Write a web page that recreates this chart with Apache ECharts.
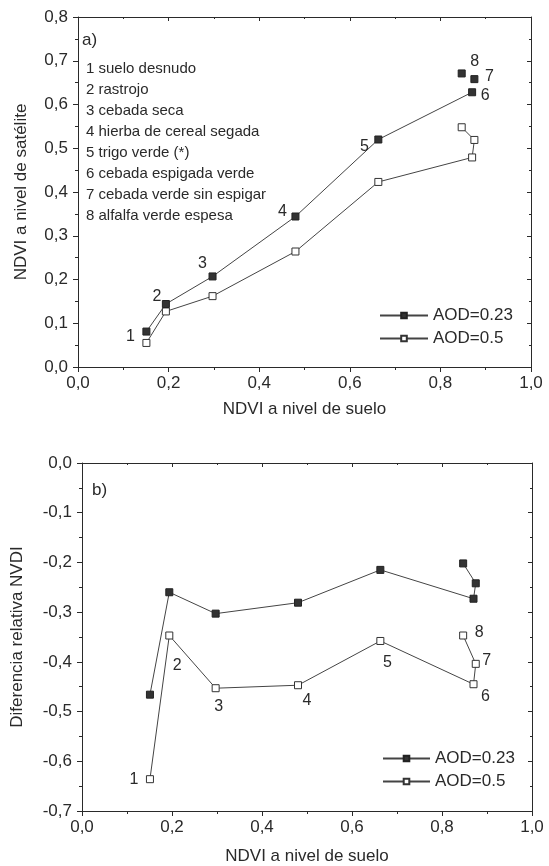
<!DOCTYPE html>
<html>
<head>
<meta charset="utf-8">
<script src="https://cdn.jsdelivr.net/npm/echarts@6/dist/echarts.min.js"></script>
<style>
html,body{margin:0;padding:0;background:#fff;}
#c{width:549px;height:866px;}
</style>
</head>
<body>
<div id="c"></div>
<script>
// ---- data ----
const ground   = [0.151, 0.194, 0.297, 0.480, 0.663, 0.870, 0.875, 0.847];
const satA023  = [0.081, 0.144, 0.207, 0.344, 0.520, 0.628, 0.658, 0.671];
const satA05   = [0.055, 0.127, 0.162, 0.264, 0.423, 0.479, 0.519, 0.548];
const difA023  = [-0.466, -0.260, -0.303, -0.281, -0.215, -0.273, -0.242, -0.202];
const difA05   = [-0.636, -0.347, -0.453, -0.447, -0.358, -0.445, -0.404, -0.347];
const pointNums = ['1','2','3','4','5','6','7','8'];
const coverList = ['1 suelo desnudo','2 rastrojo','3 cebada seca','4 hierba de cereal segada',
  '5 trigo verde (*)','6 cebada espigada verde','7 cebada verde sin espigar','8 alfalfa verde espesa'];
const seriesNames = ['AOD=0.23','AOD=0.5'];
const xName = 'NDVI a nivel de suelo';
const yNameTop = 'NDVI a nivel de satélite';
const yNameBot = 'Diferencia relativa NVDI';
// top AOD=0.23: points after which the line is broken
const topBreakBefore = [6, 7];

// ---- style (label offsets in px) ----
const topLabelOffsets = [[-16,5],[-9,-7],[-10,-13],[-13,-5],[-14,7],[13,3],[15,-3],[13,-12]];
const botLabelOffsets = [[-16,0],[8,30],[3,18],[9,15],[7,22],[12,12],[11,-3],[16,-3]];
const FONT = "'Liberation Sans', Arial, sans-serif";
const INK = '#2a2a2a';

function fmt(v){ return (Math.round(v*10)/10).toFixed(1).replace('.', ','); }

function pts(xs, ys, offsets, breaks){
  const out = [];
  xs.forEach((x,i)=>{
    if (breaks && breaks.indexOf(i) >= 0) out.push({value:[x,'-']});
    const item = {value:[x, ys[i]]};
    if (offsets) item.label = {show:true, formatter: pointNums[i], position:'inside', offset: offsets[i]};
    out.push(item);
  });
  return out;
}

function baseX(grid, name, gap){
  return {
    gridIndex: grid, type:'value', min:0, max:1, interval:0.2,
    name: name, nameLocation:'middle', nameGap: gap,
    nameTextStyle:{fontSize:17, color:INK, fontFamily:FONT},
    axisLine:{onZero:false, lineStyle:{color:INK, width:1}},
    axisTick:{length:5, lineStyle:{color:INK}},
    minorTick:{show:true, splitNumber:2, length:3, lineStyle:{color:INK}},
    axisLabel:{formatter:fmt, fontSize:17, color:INK, fontFamily:FONT, margin:8},
    splitLine:{show:false}
  };
}
function mirrorX(grid){
  return {gridIndex:grid, type:'value', min:0, max:1, interval:0.2, position:'top',
    axisLine:{onZero:false, lineStyle:{color:INK}}, axisTick:{inside:true, length:4, lineStyle:{color:INK}},
    minorTick:{show:true, splitNumber:2, length:2, lineStyle:{color:INK}},
    axisLabel:{show:false}, splitLine:{show:false}};
}
function baseY(grid, min, max, name, gap){
  return {
    gridIndex: grid, type:'value', min:min, max:max, interval:0.1,
    name:name, nameLocation:'middle', nameGap:gap,
    nameTextStyle:{fontSize:17, color:INK, fontFamily:FONT},
    axisLine:{onZero:false, lineStyle:{color:INK, width:1}},
    axisTick:{length:5, lineStyle:{color:INK}},
    minorTick:{show:true, splitNumber:2, length:3, lineStyle:{color:INK}},
    axisLabel:{formatter:fmt, fontSize:17, color:INK, fontFamily:FONT, margin:10},
    splitLine:{show:false}
  };
}
function mirrorY(grid, min, max){
  return {gridIndex:grid, type:'value', min:min, max:max, interval:0.1, position:'right',
    axisLine:{onZero:false, lineStyle:{color:INK}}, axisTick:{inside:true, length:4, lineStyle:{color:INK}},
    minorTick:{show:true, splitNumber:2, length:2, lineStyle:{color:INK}},
    axisLabel:{show:false}, splitLine:{show:false}};
}

const filledStyle = {color:'#333', borderColor:'#222', borderWidth:1};
const openStyle = {color:'#fff', borderColor:'#333', borderWidth:1};
const lineStyle = {color:'#444', width:1};
const labelStyle = {fontSize:16, color:INK, fontFamily:FONT};

function series(name, xi, yi, data, filled){
  return {
    name:name, type:'line', xAxisIndex:xi, yAxisIndex:yi, data:data,
    symbol:'rect', symbolSize:7, showSymbol:true, showAllSymbol:true,
    connectNulls:false, lineStyle:lineStyle,
    itemStyle: filled ? filledStyle : openStyle,
    label: Object.assign({show:false}, labelStyle),
    emphasis:{disabled:true}, animation:false, z: filled ? 3 : 2
  };
}

const graphics = [
  {type:'text', left:82, top:32, style:{text:'a)', fontSize:17, fill:INK, fontFamily:FONT}},
  {type:'text', left:92, top:482, style:{text:'b)', fontSize:17, fill:INK, fontFamily:FONT}}
];
coverList.forEach((t,i)=>{
  graphics.push({type:'text', left:86, top:61 + i*21, style:{text:t, fontSize:15, fill:INK, fontFamily:FONT}});
});

function legend(left, top, width){
  return {data:seriesNames, orient:'vertical', left:left, top:top, itemWidth:width, itemHeight:7, itemGap:6,
    textStyle:{fontSize:17, color:INK, fontFamily:FONT}, selectedMode:false};
}

const option = {
  animation:false,
  textStyle:{fontFamily:FONT},
  grid:[
    {left:78, top:17, width:453, height:350},
    {left:82, top:463, width:450, height:348}
  ],
  xAxis:[ baseX(0, xName, 34), mirrorX(0), baseX(1, xName, 37), mirrorX(1) ],
  yAxis:[ baseY(0, 0, 0.8, yNameTop, 48), mirrorY(0, 0, 0.8), baseY(1, -0.7, 0, yNameBot, 56), mirrorY(1, -0.7, 0) ],
  legend:[ legend(374, 302, 48), legend(377, 745, 47) ],
  graphic: graphics,
  series:[
    series(seriesNames[0], 0, 0, pts(ground, satA023, topLabelOffsets, topBreakBefore), true),
    series(seriesNames[1], 0, 0, pts(ground, satA05, null, null), false),
    series(seriesNames[0], 2, 2, pts(ground, difA023, null, null), true),
    series(seriesNames[1], 2, 2, pts(ground, difA05, botLabelOffsets, null), false)
  ]
};
const chart = echarts.init(document.getElementById('c'), null, {renderer:'canvas'});
chart.setOption(option);
</script>
</body>
</html>
